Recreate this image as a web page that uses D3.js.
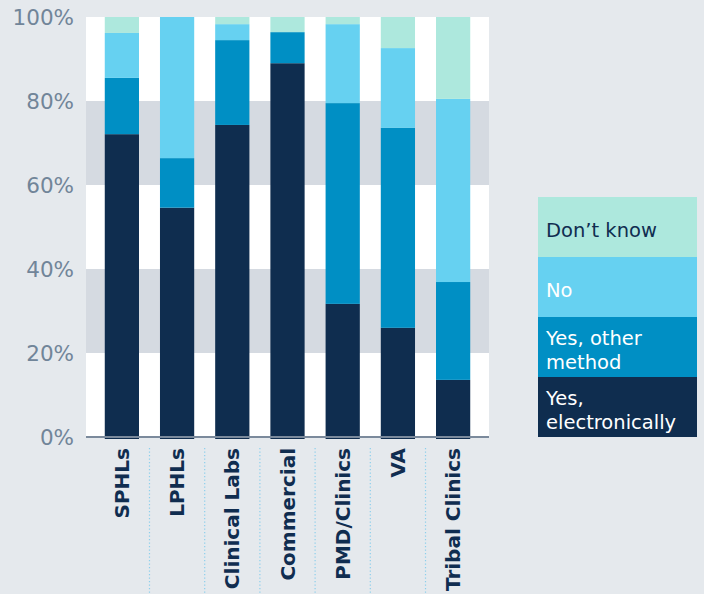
<!DOCTYPE html>
<html>
<head>
<meta charset="utf-8">
<script src="https://cdn.jsdelivr.net/npm/d3@7"></script>
<style>
  body { margin: 0; background: #e5e9ed; }
  svg { display: block; }
</style>
</head>
<body>
<svg id="chart"></svg>
<script>
// data
var categories = ["SPHLs", "LPHLs", "Clinical Labs", "Commercial", "PMD/Clinics", "VA", "Tribal Clinics"]
var seriesNames = ["Yes, electronically", "Yes, other method", "No", "Don\u2019t know"]
var yesElectronic = [72.1, 54.6, 74.3, 89.0, 31.7, 26.0, 13.6]
var yesOther      = [13.4, 11.8, 20.2, 7.4, 47.8, 47.6, 23.3]
var no            = [10.7, 33.6, 3.8, 0, 18.8, 19.0, 43.6]
var dontKnow      = [3.8, 0, 1.7, 3.6, 1.7, 7.4, 19.5]
var yTicks = [0, 20, 40, 60, 80, 100]

var colors = ["#0f2d4f", "#008fc4", "#66d1f1", "#ade8dd"]
var legendText = [["Yes,", "electronically"], ["Yes, other", "method"], ["No"], ["Don\u2019t know"]]
var legendTextColor = ["#ffffff", "#ffffff", "#ffffff", "#102d50"]

var width = 704, height = 594
var plot = {left: 86, right: 489, top: 17, bottom: 437}

var rows = categories.map(function(c, i) {
  return {cat: c, "Yes, electronically": yesElectronic[i], "Yes, other method": yesOther[i],
          "No": no[i], "Don\u2019t know": dontKnow[i]}
})

var svg = d3.select("#chart").attr("width", width).attr("height", height)

var x = d3.scaleBand()
  .domain(categories)
  .range([plot.left, plot.right])
  .paddingInner(0.38)
  .paddingOuter(0.34)

var y = d3.scaleLinear()
  .domain([0, 100])
  .range([plot.bottom, plot.top])

// plot background with grey bands
svg.append("rect")
  .attr("x", plot.left).attr("y", plot.top)
  .attr("width", plot.right - plot.left).attr("height", plot.bottom - plot.top)
  .attr("fill", "#ffffff")
svg.selectAll(".band")
  .data([[20, 40], [60, 80]])
  .enter().append("rect")
  .attr("x", plot.left)
  .attr("y", function(d) { return y(d[1]) })
  .attr("width", plot.right - plot.left)
  .attr("height", function(d) { return y(d[0]) - y(d[1]) })
  .attr("fill", "#d5dae1")

// y tick labels
svg.selectAll(".ytick")
  .data(yTicks)
  .enter().append("text")
  .attr("x", 74)
  .attr("y", function(d) { return y(d) })
  .attr("dy", "0.36em")
  .attr("text-anchor", "end")
  .attr("font-family", "DejaVu Sans")
  .attr("font-size", "21.5px")
  .attr("fill", "#718599")
  .text(function(d) { return d + "%" })

// stacked bars
var stack = d3.stack().keys(seriesNames)
var layers = stack(rows)

svg.selectAll(".layer")
  .data(layers)
  .enter().append("g")
  .attr("fill", function(d, i) { return colors[i] })
  .selectAll("rect")
  .data(function(d) { return d.filter(function(s) { return s[1] - s[0] > 0 }) })
  .enter().append("rect")
  .attr("x", function(d) { return x(d.data.cat) })
  .attr("y", function(d) { return y(d[1]) })
  .attr("width", x.bandwidth())
  .attr("height", function(d) { return y(d[0]) - y(d[1]) + (d[0] === 0 ? 2 : 0) })

// baseline
svg.append("line")
  .attr("x1", plot.left).attr("x2", plot.right)
  .attr("y1", plot.bottom).attr("y2", plot.bottom)
  .attr("stroke", "#7b8a9c")
  .attr("stroke-width", 2)

// dotted separators between categories
svg.selectAll(".sep")
  .data(categories.slice(1))
  .enter().append("line")
  .attr("x1", function(d) { return x(d) - x.step() * x.paddingInner() / 2 })
  .attr("x2", function(d) { return x(d) - x.step() * x.paddingInner() / 2 })
  .attr("y1", 448).attr("y2", height)
  .attr("stroke", "#8ccfec")
  .attr("stroke-width", 1.2)
  .attr("stroke-dasharray", "1.2,2.3")

// category labels
svg.selectAll(".xlabel")
  .data(categories)
  .enter().append("text")
  .attr("transform", function(d) {
    return "translate(" + (x(d) + x.bandwidth() / 2 + 7) + ",448) rotate(-90)"
  })
  .attr("text-anchor", "end")
  .attr("font-family", "DejaVu Sans")
  .attr("font-weight", "bold")
  .attr("font-size", "20px")
  .attr("fill", "#102d50")
  .text(function(d) { return d })

// legend
var legend = {x: 538, width: 159, top: 197, rowH: 60}
var order = [3, 2, 1, 0]
order.forEach(function(si, row) {
  var y0 = legend.top + row * legend.rowH
  svg.append("rect")
    .attr("x", legend.x).attr("y", y0)
    .attr("width", legend.width).attr("height", legend.rowH)
    .attr("fill", colors[si])
  var lines = legendText[si]
  var lh = 24
  var startY = y0 + legend.rowH / 2 + 3 - (lines.length - 1) * lh / 2
  var t = svg.append("text")
    .attr("x", 546)
    .attr("font-family", "DejaVu Sans")
    .attr("font-size", "19.5px")
    .attr("fill", legendTextColor[si])
  lines.forEach(function(l, k) {
    t.append("tspan")
      .attr("x", 546)
      .attr("y", startY + k * lh)
      .attr("dy", "0.36em")
      .text(l)
  })
})
</script>
</body>
</html>
